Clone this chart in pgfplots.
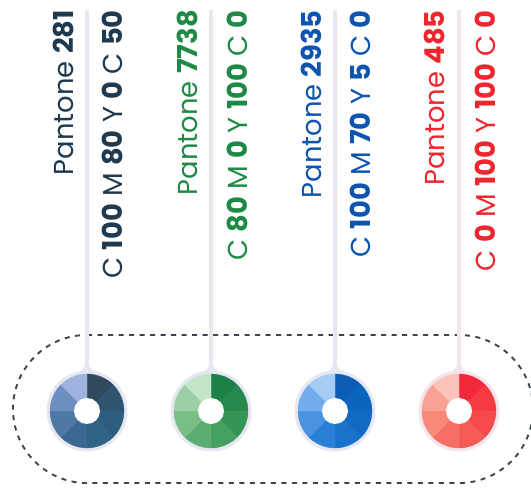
\documentclass[border=0pt]{standalone}
\usepackage{fontspec}
\setmainfont{Poppins}
\usepackage{pgfplots}
\pgfplotsset{compat=1.18}

% halo / stem colour
\definecolor{halo}{HTML}{E7E7F2}
\definecolor{halor}{HTML}{F3E5EB}
\definecolor{framecol}{HTML}{3A4550}
% text colours
\definecolor{tA}{HTML}{1F3A4E}
\definecolor{tB}{HTML}{1F8A45}
\definecolor{tC}{HTML}{0D55B0}
\definecolor{tD}{HTML}{F0262F}
% Pantone 281 segments, clockwise from 12 o'clock
\definecolor{A1}{HTML}{2E4A5C}\definecolor{A2}{HTML}{2D5570}
\definecolor{A3}{HTML}{2C5D7C}\definecolor{A4}{HTML}{2E6287}
\definecolor{A5}{HTML}{3A6A93}\definecolor{A6}{HTML}{4F78A4}
\definecolor{A7}{HTML}{6D8FC0}\definecolor{A8}{HTML}{9FB3DE}
% Pantone 7738
\definecolor{B1}{HTML}{1D8048}\definecolor{B2}{HTML}{26894F}
\definecolor{B3}{HTML}{349557}\definecolor{B4}{HTML}{45A062}
\definecolor{B5}{HTML}{5BAD72}\definecolor{B6}{HTML}{79BD87}
\definecolor{B7}{HTML}{9CCFA6}\definecolor{B8}{HTML}{C3E5C8}
% Pantone 2935
\definecolor{C1}{HTML}{0B5CB5}\definecolor{C2}{HTML}{0B64BD}
\definecolor{C3}{HTML}{1169C4}\definecolor{C4}{HTML}{1A72CC}
\definecolor{C5}{HTML}{2A7FD6}\definecolor{C6}{HTML}{4B93E0}
\definecolor{C7}{HTML}{72ACEC}\definecolor{C8}{HTML}{A6CCF6}
% Pantone 485
\definecolor{D1}{HTML}{F2293A}\definecolor{D2}{HTML}{F53A42}
\definecolor{D3}{HTML}{F5494C}\definecolor{D4}{HTML}{F65A55}
\definecolor{D5}{HTML}{F76E65}\definecolor{D6}{HTML}{F88878}
\definecolor{D7}{HTML}{FAA193}\definecolor{D8}{HTML}{FCC3B8}

% #1 centre x, #2 colour prefix, #3 halo colour
\newcommand\donut[3]{%
  \fill[#3] (axis cs:#1-1.6,140) rectangle (axis cs:#1+1.6,493);
  \fill[#3] (axis cs:#1-1.6,142) .. controls (axis cs:#1-1.6,136) and (axis cs:#1-4,133) .. (axis cs:#1-9,130)
     -- (axis cs:#1+9,130) .. controls (axis cs:#1+4,133) and (axis cs:#1+1.6,136) .. (axis cs:#1+1.6,142) -- cycle;
  \fill[#3] (axis cs:#1,92) circle[radius=40.5bp];
  \pgfplotsinvokeforeach{1,...,8}{%
    \filldraw[#2##1, line width=0.3pt] (axis cs:#1,92) -- ++({135-45*##1}:37bp)
      arc[start angle={135-45*##1}, end angle={90-45*##1}, radius=37bp] -- cycle;
  }
  \fill[white] (axis cs:#1,92) circle[radius=13bp];
}
% #1 x, #2 colour, #3 text
\newcommand\lbl[3]{%
  \node[rotate=90, anchor=east, inner sep=0pt, text=#2] at (axis cs:#1,493)
    {\fontsize{27.5}{27.5}\selectfont #3};
}

\begin{document}
\begin{tikzpicture}
\path[use as bounding box] (0,0) rectangle (531bp,503bp);
\begin{axis}[
    at={(0,0)}, anchor=origin,
    x=1bp, y=1bp,
    xmin=0, xmax=531, ymin=0, ymax=503,
    hide axis,
]
% dashed frame round the swatches
\draw[framecol, line width=1.9pt, dash pattern=on 5bp off 5.5bp]
  (axis cs:87,168) -- (axis cs:459,168) arc[start angle=90, end angle=-90, radius=74bp]
  -- (axis cs:87,20) arc[start angle=270, end angle=90, radius=74bp] -- cycle;

\donut{87}{A}{halo}
\donut{211}{B}{halo}
\donut{335}{C}{halo}
\donut{459}{D}{halor}

\lbl{63}{tA}{Pantone \textbf{281}}
\lbl{112}{tA}{C \textbf{100} M \textbf{80} Y \textbf{0} C \textbf{50}}
\lbl{187}{tB}{Pantone \textbf{7738}}
\lbl{237}{tB}{C \textbf{80} M \textbf{0} Y \textbf{100} C \textbf{0}}
\lbl{311}{tC}{Pantone \textbf{2935}}
\lbl{360}{tC}{C \textbf{100} M \textbf{70} Y \textbf{5} C \textbf{0}}
\lbl{434}{tD}{Pantone \textbf{485}}
\lbl{485}{tD}{C \textbf{0} M \textbf{100} Y \textbf{100} C \textbf{0}}
\end{axis}
\end{tikzpicture}
\end{document}
